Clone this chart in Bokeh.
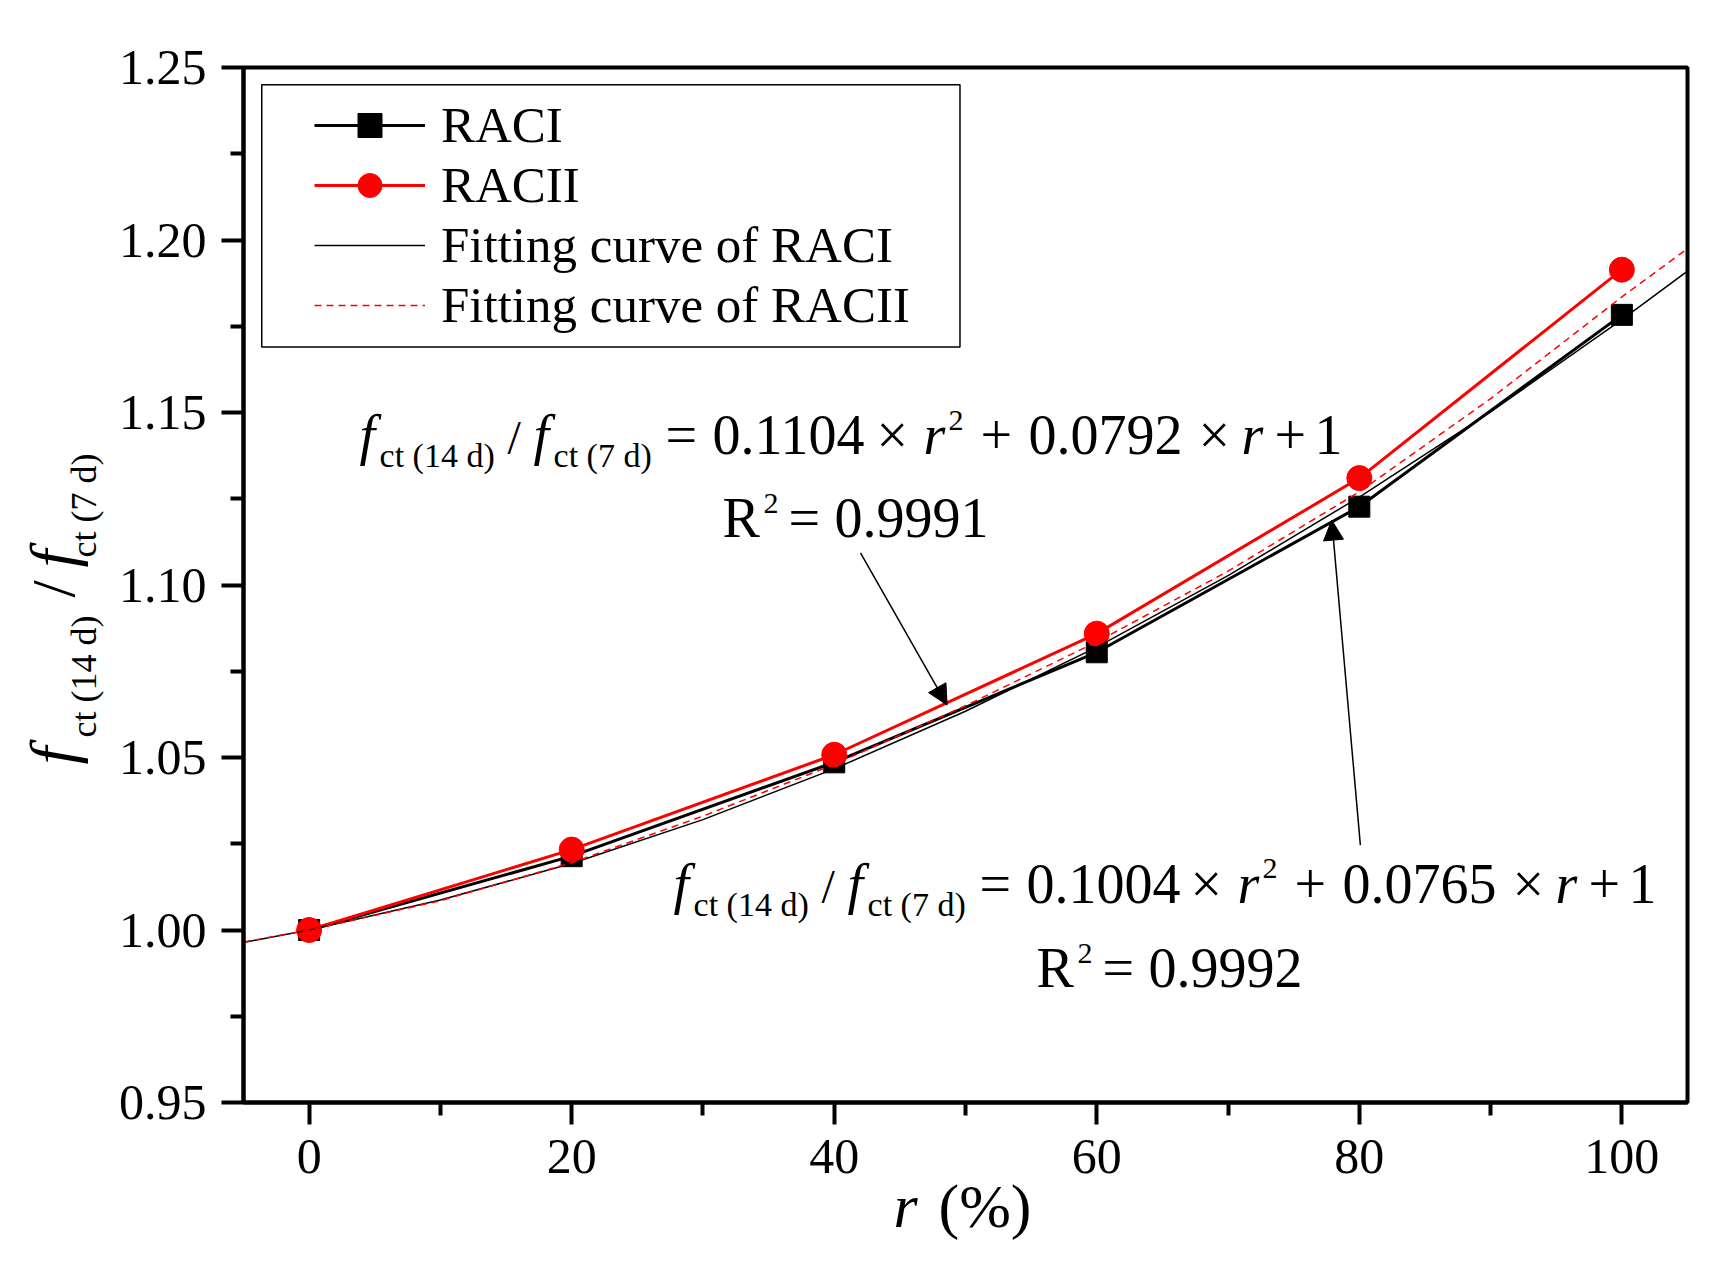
import math
from bokeh.plotting import figure
from bokeh.models import (Label, Arrow, NormalHead, Legend, LegendItem, BoxAnnotation,
                          FixedTicker, PrintfTickFormatter, Range1d, Title)
from bokeh.embed import file_html
from bokeh.resources import INLINE

# ---------------- data ----------------
r_pct = [0, 20, 40, 60, 80, 100]
raci = [1.000, 1.0214, 1.0486, 1.0805, 1.1227, 1.1783]
racii = [1.000, 1.0233, 1.0508, 1.0859, 1.1310, 1.1914]

fit_r = [-5, 0, 10, 20, 30, 40, 50, 60, 70, 80, 90, 100, 105]
fit_raci = [0.9964, 1.0, 1.0087, 1.0193, 1.0320, 1.0467, 1.0634, 1.0820,
            1.1027, 1.1255, 1.1502, 1.1769, 1.1910]
fit_racii = [0.9965, 1.0, 1.0085, 1.0195, 1.0330, 1.0480, 1.0650, 1.0835,
             1.1040, 1.1270, 1.1540, 1.1835, 1.1975]

x_ticks = [0, 20, 40, 60, 80, 100]
x_minor = [10, 30, 50, 70, 90]
y_ticks = [0.95, 1.00, 1.05, 1.10, 1.15, 1.20, 1.25]
y_minor = [0.975, 1.025, 1.075, 1.125, 1.175, 1.225]
legend_labels = ["RACI", "RACII", "Fitting curve of RACI", "Fitting curve of RACII"]

FONT = "Liberation Serif"

p = figure(frame_width=1444, frame_height=1035,
           x_range=Range1d(-5, 105), y_range=Range1d(0.95, 1.25),
           output_backend="svg", toolbar_location=None,
           min_border_left=243, min_border_right=27,
           min_border_top=67, min_border_bottom=148)
p.xgrid.visible = False
p.ygrid.visible = False
p.outline_line_color = "black"
p.outline_line_width = 4
p.outline_line_alpha = 1
p.background_fill_color = "white"
p.border_fill_color = "white"

p.xaxis.ticker = FixedTicker(ticks=x_ticks, minor_ticks=x_minor)
p.yaxis.ticker = FixedTicker(ticks=y_ticks, minor_ticks=y_minor)
p.yaxis.formatter = PrintfTickFormatter(format="%.2f")
for ax in (p.xaxis[0], p.yaxis[0]):
    ax.axis_line_width = 4
    ax.axis_line_color = "black"
    ax.major_tick_line_width = 4
    ax.minor_tick_line_width = 4
    ax.major_tick_line_color = "black"
    ax.minor_tick_line_color = "black"
    ax.major_tick_in = 0
    ax.major_tick_out = 22
    ax.minor_tick_in = 0
    ax.minor_tick_out = 13
    ax.major_label_text_font = FONT
    ax.major_label_text_font_size = "50px"
    ax.major_label_text_color = "black"
    ax.major_label_standoff = 15

# ---------------- series ----------------
l1 = p.line(r_pct, raci, line_color="black", line_width=3)
s1 = p.scatter(r_pct, raci, marker="square", size=21, fill_color="black", line_color="black")
l2 = p.line(r_pct, racii, line_color="#ff0000", line_width=3)
s2 = p.scatter(r_pct, racii, marker="circle", size=25, fill_color="#ff0000", line_color="#ff0000")
f1 = p.line(fit_r, fit_raci, line_color="black", line_width=1.5)
f2 = p.line(fit_r, fit_racii, line_color="#ff0000", line_width=1.5, line_dash="7 5")

# ---------------- legend ----------------
legend = Legend(items=[
    LegendItem(label=legend_labels[0], renderers=[l1, s1]),
    LegendItem(label=legend_labels[1], renderers=[l2, s2]),
    LegendItem(label=legend_labels[2], renderers=[f1]),
    LegendItem(label=legend_labels[3], renderers=[f2]),
], location=(61, 757), padding=10, spacing=0, margin=0,
    glyph_width=111, glyph_height=60, label_height=60, label_standoff=16,
    label_text_font=FONT, label_text_font_size="51px", label_text_color="black",
    border_line_alpha=0, background_fill_alpha=0)
p.add_layout(legend)
p.add_layout(BoxAnnotation(left=-3.61, right=49.58, top=1.2450, bottom=1.169,
                           fill_color=None, fill_alpha=0, line_color="black",
                           line_width=1.5, line_alpha=1))

# ---------------- equations inside the frame ----------------
K = 0.35  # baseline correction (fraction of font size)


def place(pieces, x0, y0):
    for text, size, italic, dy, xoff in pieces:
        p.add_layout(Label(x=x0, y=y0, x_offset=xoff, y_offset=dy + K * size, text=text,
                           text_font=FONT, text_font_size=f"{size}px",
                           text_font_style="italic" if italic else "normal",
                           text_color="black", text_align="left",
                           text_baseline="alphabetic"))


M, S, P, SL = 56, 34, 30, 48


def equation(a, b):
    return [("f", M, True, 0, 0), ("ct (14 d)", S, False, -13, 20),
            ("/", SL, False, 0, 148), ("f", M, True, 0, 174), ("ct (7 d)", S, False, -13, 194),
            ("=", M, False, 0, 306), (a, M, False, 0, 353), ("×", M, False, 0, 517),
            ("r", M, True, 0, 564), ("2", P, False, 24, 589), ("+", M, False, 0, 621),
            (b, M, False, 0, 669), ("×", M, False, 0, 839), ("r", M, True, 0, 882),
            ("+", M, False, 0, 915), ("1", M, False, 0, 955)]


def rsq(v):
    return [("R", M, False, 0, 0), ("2", P, False, 24, 41), ("=", M, False, 0, 66),
            (v, M, False, 0, 112)]


place(equation("0.1104", "0.0792"), 3.84, 1.1378)
place(rsq("0.9991"), 31.49, 1.1137)
place(equation("0.1004", "0.0765"), 27.76, 1.0077)
place(rsq("0.9992"), 55.41, 0.9833)

# ---------------- axis titles (side-panel titles, overlapping pieces) ----------------
H = 1.107  # font box height / font size


def spacer(size_px, side):
    # blank (no ink) title that only reserves space in the side panel
    p.add_layout(Title(text="\u00a0", text_font=FONT, text_font_size="10px",
                       text_color="white", vertical_align="middle",
                       standoff=size_px - 2 - H * 10), side)


def piece(text, size, italic, offset, side):
    p.add_layout(Title(text=text, text_font=FONT, text_font_size=f"{size}px",
                       text_font_style="italic" if italic else "normal",
                       text_color="black", align="left", offset=offset,
                       vertical_align="middle", standoff=-(2 + H * size)), side)


# x title: r (%)
spacer(30, "below")
piece("r", 62, True, 650, "below")
piece("(%)", 62, False, 695, "below")

# y title: f_ct (14 d) / f_ct (7 d)
spacer(32, "left")
piece("ct (14 d)", 36, False, 365, "left")
piece("ct (7 d)", 36, False, 545, "left")
spacer(31.5, "left")
piece("f", 64, True, 338, "left")
piece("/", 62, False, 505, "left")
piece("f", 64, True, 535, "left")

# ---------------- arrows ----------------
p.add_layout(Arrow(end=NormalHead(size=20, fill_color="black", line_color="black"),
                   x_start=42.0, y_start=1.1093, x_end=48.6, y_end=1.0652,
                   line_width=1.5, line_color="black"))
p.add_layout(Arrow(end=NormalHead(size=20, fill_color="black", line_color="black"),
                   x_start=80.08, y_start=1.0246, x_end=77.9, y_end=1.1188,
                   line_width=1.5, line_color="black"))

open("out.html", "w").write(file_html(p, INLINE))
